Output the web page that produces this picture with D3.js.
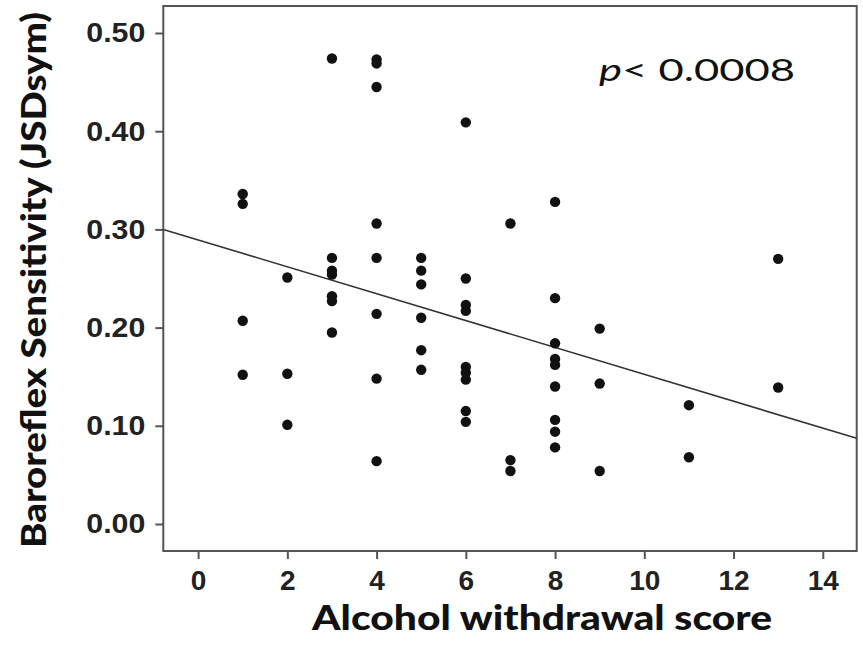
<!DOCTYPE html>
<html>
<head>
<meta charset="utf-8">
<title>Baroreflex sensitivity vs alcohol withdrawal score</title>
<script src="https://d3js.org/d3.v7.min.js"></script>
<style>
  body { margin: 0; background: #fff; }
  .tick text { font-family: "Liberation Sans", Arial, sans-serif; font-weight: bold; font-size: 28px; fill: #222; }
  .axis-title { font-family: Lato, "Open Sans", sans-serif; font-weight: 900; font-size: 34px; fill: #111; }
  .pval { font-family: Lato, "Open Sans", sans-serif; font-size: 31px; fill: #111; }
</style>
</head>
<body>
<div id="chart"></div>
<script>
// withdrawal score (x) and baroreflex sensitivity (y), one entry per subject
const scores = [
  1, 1, 1, 1,
  2, 2, 2,
  3, 3, 3, 3, 3, 3, 3,
  4, 4, 4, 4, 4, 4, 4, 4,
  5, 5, 5, 5, 5, 5,
  6, 6, 6, 6, 6, 6, 6, 6, 6,
  7, 7, 7,
  8, 8, 8, 8, 8, 8, 8, 8, 8,
  9, 9, 9,
  11, 11,
  13, 13
];
const bsens = [
  0.336, 0.326, 0.207, 0.152,
  0.251, 0.153, 0.101,
  0.474, 0.271, 0.258, 0.254, 0.232, 0.227, 0.195,
  0.473, 0.469, 0.445, 0.306, 0.271, 0.214, 0.148, 0.064,
  0.271, 0.258, 0.244, 0.210, 0.177, 0.157,
  0.409, 0.250, 0.223, 0.217, 0.160, 0.154, 0.147, 0.115, 0.104,
  0.306, 0.065, 0.054,
  0.328, 0.230, 0.184, 0.168, 0.162, 0.140, 0.106, 0.094, 0.078,
  0.199, 0.143, 0.054,
  0.121, 0.068,
  0.270, 0.139
];
const xTicks = [0, 2, 4, 6, 8, 10, 12, 14];
const yTicks = [0, 0.1, 0.2, 0.3, 0.4, 0.5];
const fitIntercept = 0.2893;
const fitSlope = -0.01369;
const pLabel = "< 0.0008";

const W = 863, H = 653;
const frame = { left: 163.3, right: 856.7, top: 6, bottom: 551 };

const svg = d3.select("#chart").append("svg")
  .attr("width", W).attr("height", H);

const x = d3.scaleLinear().domain([-0.78, 14.76]).range([frame.left, frame.right]);
const y = d3.scaleLinear().domain([-0.0275, 0.5275]).range([frame.bottom, frame.top]);

// frame
svg.append("rect")
  .attr("x", frame.left).attr("y", frame.top)
  .attr("width", frame.right - frame.left).attr("height", frame.bottom - frame.top)
  .attr("fill", "none").attr("stroke", "#555").attr("stroke-width", 2);

// axes
const xAxis = svg.append("g")
  .attr("transform", `translate(0,${frame.bottom})`)
  .call(d3.axisBottom(x).tickValues(xTicks).tickSize(8).tickPadding(11).tickFormat(d3.format("d")));
const yAxis = svg.append("g")
  .attr("transform", `translate(${frame.left},0)`)
  .call(d3.axisLeft(y).tickValues(yTicks).tickSize(8).tickPadding(10).tickFormat(d3.format(".2f")));
[xAxis, yAxis].forEach(g => {
  g.select(".domain").remove();
  g.selectAll(".tick line").attr("stroke", "#555").attr("stroke-width", 2);
});
// the original's y labels are a little wider than the font gives
yAxis.selectAll(".tick text")
  .attr("textLength", 59).attr("lengthAdjust", "spacingAndGlyphs");

// regression line
const fit = x.domain().map(v => ({ x: v, y: fitIntercept + fitSlope * v }));
svg.append("path")
  .datum(fit)
  .attr("fill", "none").attr("stroke", "#333").attr("stroke-width", 1.6)
  .attr("d", d3.line().x(d => x(d.x)).y(d => y(d.y)));

// points
svg.append("g").selectAll("circle")
  .data(scores.map((s, i) => ({ s, v: bsens[i] })))
  .join("circle")
  .attr("cx", d => x(d.s)).attr("cy", d => y(d.v))
  .attr("r", 5.2).attr("fill", "#111");

// annotation
const pt = svg.append("text").attr("class", "pval")
  .attr("x", 599).attr("y", 81)
  .attr("textLength", 196).attr("lengthAdjust", "spacingAndGlyphs");
pt.append("tspan").attr("font-style", "italic").text("p");
pt.append("tspan").text(pLabel);

// axis titles
svg.append("text").attr("class", "axis-title")
  .attr("x", 542).attr("y", 630).attr("text-anchor", "middle")
  .attr("textLength", 460).attr("lengthAdjust", "spacingAndGlyphs")
  .text("Alcohol withdrawal score");
svg.append("text").attr("class", "axis-title")
  .attr("transform", "translate(46,280) rotate(-90)")
  .attr("text-anchor", "middle")
  .attr("textLength", 536).attr("lengthAdjust", "spacingAndGlyphs")
  .text("Baroreflex Sensitivity (JSDsym)");
</script>
</body>
</html>
